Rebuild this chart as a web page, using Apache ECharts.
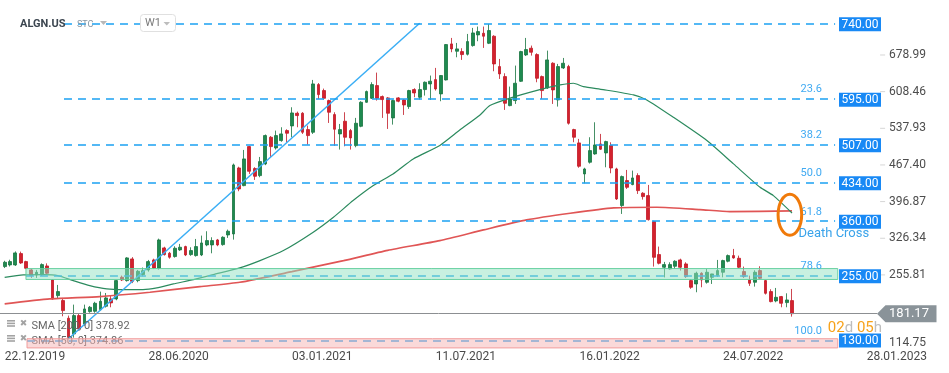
<!DOCTYPE html>
<html>
<head>
<meta charset="utf-8">
<script src="https://cdn.jsdelivr.net/npm/echarts@6/dist/echarts.min.js"></script>
<style>
  html, body { margin: 0; padding: 0; background: #fff; }
  #chart { width: 949px; height: 373px; }
</style>
</head>
<body>
<div id="chart"></div>
<script>
// weekly candles, one per week, [open, close, low, high]; index = week number
const ohlc = [
  [271.8,280.1,269,283],[275,281.4,272,285],[275,298.1,273,301],[296.8,278.8,277,300.6],
  [281.4,268.6,267,283],[265.4,254.5,250,267.3],[255.8,260.9,250,265.4],[255.8,275.6,254,278],
  [273,259,257,278],[246,209.6,208,247],[216,223.7,211,236.5],[206.4,187.1,176.2,211.5],
  [172.4,135.8,132.5,177.5],[142.2,177.5,135,198.6],[177.5,151.8,148,182],[161.4,190.3,158,198.6],
  [185.2,193.5,183,196],[185.8,201.2,183,204],[189,205,187,223.6],[195.5,211.5,193,221],
  [209.6,201.9,193.5,216],[209.6,244.8,207,246],[251.3,246.1,244,254.5],[244.8,288.5,243,290],
  [286.5,243.5,240,290],[244.8,262.8,241.6,265.4],[256.4,264,253,270],[265.4,281.4,262,284.6],
  [284.6,269.2,267,287],[268.6,323.1,266,325.6],[307.7,294.9,293,310],[297.5,289.8,287,300],
  [291.1,307.1,289,310.9],[303.9,309,302,315.4],[310.3,294.2,292,312],[294.9,302.6,292.5,309],
  [293,310.3,291,325],[294.2,317.3,292,331.4],[313.5,321.8,311,339.8],[313.5,321.8,297.4,328.2],
  [323.1,313.5,311,325],[314.1,328.2,312,330.1],[332.7,339.8,327,343],[334.6,467.4,323.7,470],
  [461.6,421.2,416.8,464],[427.6,479,426.4,496.3],[502.7,455.2,450.1,504],[460.4,445.6,438.6,463],
  [446.9,473.8,443.7,482.8],[469.4,523.9,467,526],[520.7,502.7,482.2,523],[500.1,523.9,497,533.5],
  [514.3,527.1,512,539.9],[533.5,528.4,511,536],[542.5,567.5,520.7,578.4],[566.9,562.4,539.9,570],
  [566.9,530.3,527,569],[535.4,523.9,506.5,543.1],[530.3,623.3,527,631],[622,602.8,594.4,625],
  [610.5,595.7,593,614.3],[591.2,568.8,548.2,593],[564.3,536.1,504,568.8],[527.1,535.4,497,546.3],
  [551.5,520.7,503.3,568.8],[533.5,519.4,497,536.7],[504.6,547.6,501.4,557.9],[541.8,588,540,590],
  [588,608.6,587,610.5],[595.7,622,594.4,626.5],[620.1,595.7,591.2,645.1],[598.9,593.2,557.9,601],
  [596.4,566.9,536.7,598],[557.9,591.2,545,593],[596.4,590,588,598],[592.5,582.9,563.6,594],
  [579.7,610.5,575.2,612],[612.4,606,597.6,615],[597.6,612.4,593.2,624.6],[612.4,626.5,600.9,628],
  [623.3,628.5,592.5,639.4],[631.6,613.7,610.5,654.1],[604.1,639.4,590,640],[631,699,630,700],
  [700.3,690.7,684.3,711.8],[686.2,690.7,674.6,702.2],[685.5,679.8,669.5,692],[680.4,704.8,678,719.5],
  [697.1,721.4,695,731.1],[717.6,724,705.5,733.7],[720.8,715.1,692.6,733.7],[701.6,726,700,738.8],
  [715.1,661.8,647.7,717],[656.7,642.6,632.9,671.4],[637.4,586.1,573.3,643.8],[581.6,594.4,580.3,618.2],
  [591.2,624.6,584.8,658.6],[628.4,685.5,627,687],[679.1,689.4,677,711.8],[692,684.3,677.8,697.1],
  [679.8,634.2,626.5,682.3],[637.4,610.5,594.4,639.4],[615.6,669.5,613.7,687.4],[663.1,611.8,584.8,665],
  [592.5,656.7,579.7,661.8],[654.1,663.1,652,673.3],[656.7,547.6,545,660],[535.4,520.7,511.1,537],
  [509.8,464.9,462,517.5],[450.1,459.7,432.1,462],[472.6,495,470,520.7],[488.6,505.9,487,549.5],
  [507.8,497.6,496.3,527.1],[490.5,512.3,462.9,514],[504.6,461.6,451.4,511],[459.7,402,400,462],
  [389.2,445,373.1,447],[437.3,424.4,421.2,457.8],[429.6,442.4,428.3,456.5],[446.9,418,411.6,451.4],
  [412.9,406.5,400.7,415],[408.4,362.2,360.3,428.9],[358.4,289.7,271.8,360],[294.9,278.2,276,310.3],
  [270.5,275.6,251,280.8],[267.3,275.6,266,280.1],[272.4,282.1,267.3,284],[284.6,270.5,264.1,287],
  [276.9,252.5,250,280.1],[244.8,232,229,247.4],[238.4,259,222.4,262],[259,246.1,232,260.9],
  [241.6,260.9,239,267.3],[251.2,257.7,238.4,258],[254.4,264.1,252,284.6],[260.9,283.3,251.2,285],
  [282.1,292.9,280,295],[292.9,288.5,287,305.8],[287.8,270.5,269,292.9],[262.2,252.5,250,271.8],
  [246.1,239.7,234.6,254.4],[241.6,260.9,233.3,264.7],[264.1,249.3,248,272.4],[244.8,220.4,218,246],
  [223.7,204.4,203,228.2],[205.7,212.7,203.1,230.7],[214,201.2,193.5,215.3],[202.5,207.6,193.5,220.4],
  [206.3,181.17,175.5,228.8]
];

// moving averages at these week numbers
const sma50Week = [0,3.5,7.3,10,12.9,16,19.2,22.3,26,28.6,31.7,35.5,39.2,44.2,48,52.4,58,61.8,65.5,69.3,73,76.8,81.8,85.6,89.3,91.2,95,100.6,104.4,106.9,108.8,112.5,118.2,120.7,125.7,132,137,142,144.5,148];
const sma50Val  = [251,255.7,256.4,254.4,244.8,235.2,228.8,227.5,227.5,230.7,238.4,246.8,256.4,269.2,283.3,302.6,337.9,366.7,398.8,427.7,450.1,479,505,535,563,581.6,596,612.4,621.4,624.6,618.2,612.4,602.1,592.5,559.1,514.3,469.4,424.4,408.4,374.86];
const sma200Week = [0,8.5,17.9,27.3,36.7,44.2,54,63.7,72,81.8,90,98.1,106.3,114.5,122.6,130.7,136.3,148];
const sma200Val  = [199.9,209.5,214,222.4,233.3,241.6,262,283.3,303,321.8,342.3,361.6,374.4,384.7,386,381.5,377.6,378.92];

// fibonacci retracement
const fibLevels = [740, 595, 507, 434, 360, 255, 130];
const fibNames = ['', '23.6', '38.2', '50.0', '61.8', '78.6', '100.0'];
const fibFrom = [11.15, 11.15, 11.15, 11.15, 11.15, 4.0, 4.2];
const fibTo = 156.1;
const zones = [[247, 268], [115.3, 133]];

const trendLine = [[12, 133], [78, 740]];
const lastPrice = 181.17;
const deathCross = [147.6, 371.6];

const yTicks = [114.75, 255.81, 326.34, 396.87, 467.40, 537.93, 608.46, 678.99];
const xTickPos = [5.7, 32.7, 59.7, 86.7, 113.7, 140.7, 167.7];
const xTickLabels = ['22.12.2019', '28.06.2020', '03.01.2021', '11.07.2021', '16.01.2022', '24.07.2022', '28.01.2023'];

const chart = echarts.init(document.getElementById('chart'));
const FONT = 'Roboto, "Noto Sans", sans-serif';
const FIB_BLUE = '#1ba1f2';

const fibLines = fibLevels.map((v, i) => [{ coord: [fibFrom[i], v] }, { coord: [fibTo, v] }]);

chart.setOption({
  animation: false,
  backgroundColor: '#fff',
  textStyle: { fontFamily: FONT },
  grid: { left: 0, right: 0, top: 0, bottom: 24.8 },
  xAxis: {
    type: 'value',
    min: -0.876,
    max: 177.51,
    axisLine: { show: false },
    axisTick: { show: false },
    splitLine: { show: false },
    axisLabel: {
      customValues: xTickPos,
      margin: 3,
      color: '#4a4a4a',
      fontSize: 12,
      formatter: function (v) {
        for (let i = 0; i < xTickPos.length; i++) {
          if (Math.abs(xTickPos[i] - v) < 0.01) return xTickLabels[i];
        }
        return '';
      }
    }
  },
  yAxis: {
    type: 'value',
    position: 'right',
    min: 114.75,
    max: 784.8,
    scale: true,
    axisLine: { show: false },
    axisTick: { show: false },
    splitLine: { show: false },
    axisLabel: {
      customValues: yTicks,
      inside: true,
      margin: 23,
      color: '#4d4d4d',
      fontSize: 12,
      formatter: function (v) {
        const s = v.toFixed(2);
        if (Math.abs(v - 114.75) < 0.01) return '{lo|' + s + '}';
        return '{tk|}{v|' + s + '}';
      },
      rich: {
        tk: { width: 5, height: 1, backgroundColor: '#d6d6d6' },
        v: { padding: [0, 0, 0, 4], color: '#4d4d4d', fontSize: 12 },
        lo: { padding: [0, 0, 10, 0], color: '#4d4d4d', fontSize: 12 }
      }
    }
  },
  series: [
    {
      type: 'candlestick',
      z: 2,
      barWidth: 3.3,
      data: ohlc.map((d, i) => [i, d[0], d[1], d[2], d[3]]),
      itemStyle: {
        color: '#1f8a50',
        color0: '#d3222e',
        borderColor: '#16733f',
        borderColor0: '#c01824',
        borderWidth: 0.8
      },
      markLine: {
        silent: true,
        symbol: ['none', 'none'],
        label: { show: false },
        lineStyle: { color: FIB_BLUE, width: 1.5, type: [8, 6] },
        data: fibLines
      }
    },
    {
      type: 'line',
      z: 3,
      name: 'SMA 200',
      data: sma200Week.map((w, i) => [w, sma200Val[i]]),
      smooth: 0.2,
      showSymbol: false,
      lineStyle: { color: '#e05555', width: 1.7 }
    },
    {
      type: 'line',
      z: 3,
      name: 'SMA 50',
      data: sma50Week.map((w, i) => [w, sma50Val[i]]),
      smooth: 0.2,
      showSymbol: false,
      lineStyle: { color: '#2b8a5e', width: 1.2 }
    },
    {
      type: 'line',
      z: 4,
      data: trendLine,
      showSymbol: false,
      lineStyle: { color: '#3aaef5', width: 1.5 },
      markLine: {
        silent: true,
        symbol: ['none', 'none'],
        label: { show: false },
        lineStyle: { color: '#8c8f92', width: 1, type: 'solid' },
        data: [[{ coord: [-0.876, lastPrice] }, { coord: [164, lastPrice] }]]
      }
    }
  ]
});

// overlays placed through the chart's own scales
const P = (x, y) => chart.convertToPixel({ seriesIndex: 0 }, [x, y]);
const g = [];
const txt = (x, y, text, font, fill, align, z) => g.push({
  type: 'text', x: x, y: y, z: z || 60, silent: true,
  style: { text: text, font: font, fill: fill, align: align || 'left', verticalAlign: 'middle' }
});

// header
txt(20, 24, 'ALGN.US', 'bold 11px ' + FONT, '#3c4650', 'left', 30);
txt(77, 24.5, 'STC', '9px ' + FONT, '#8795a1', 'left', 30);
g.push({ type: 'polygon', z: 30, silent: true, shape: { points: [[100, 21], [107, 21], [103.5, 25]] }, style: { fill: '#b8b8b8' } });
g.push({ type: 'rect', z: 30, silent: true, shape: { x: 140.5, y: 14.5, width: 35, height: 17, r: 3 }, style: { fill: '#fff', stroke: '#e0e0e0', lineWidth: 1 } });
txt(145, 23.5, 'W1', '11px ' + FONT, '#7a7a7a', 'left', 31);
g.push({ type: 'polygon', z: 31, silent: true, shape: { points: [[163.5, 22], [170, 22], [166.8, 25.5]] }, style: { fill: '#bdbdbd' } });

// indicator legend
[['SMA [200, 0] 378.92', 326.5], ['SMA [50, 0] 374.86', 341.5]].forEach(function (it) {
  const y = it[1];
  for (let j = 0; j < 3; j++) {
    g.push({ type: 'rect', z: 40, silent: true, shape: { x: 7, y: y - 6.5 + j * 2.6, width: 8, height: 1.6 }, style: { fill: '#a3a3a3' } });
  }
  txt(23.5, y - 3, '✖', '9px "DejaVu Sans"', '#a3a3a3', 'center', 40);
  txt(31.5, y, it[0], '11px ' + FONT, '#666', 'left', 40);
});

// zones
zones.forEach(function (z, i) {
  const a = P(i === 0 ? 4.0 : 4.2, z[1]);
  const b = P(156.6, z[0]);
  g.push({
    type: 'rect', z: 50, silent: true,
    shape: { x: a[0], y: a[1], width: b[0] - a[0], height: b[1] - a[1] },
    style: i === 0
      ? { fill: 'rgba(145,225,193,0.5)', stroke: 'rgba(95,205,155,0.9)', lineWidth: 1 }
      : { fill: 'rgba(245,180,180,0.5)', stroke: 'rgba(240,150,150,0.9)', lineWidth: 1 }
  });
});

// fibonacci boxes and level names
fibLevels.forEach(function (v, i) {
  const y = P(0, v)[1];
  const cy = Math.min(y + 1, 340.5);
  g.push({ type: 'rect', z: 60, silent: true, shape: { x: 839, y: cy - 7, width: 42, height: 14 }, style: { fill: '#1889f5' } });
  txt(860, cy + 0.5, v.toFixed(2), '12px ' + FONT, '#fff', 'center', 61);
  if (fibNames[i]) txt(822, y - 9, fibNames[i], '11px ' + FONT, '#41aaf2', 'right', 60);
});

// last price tag
const py = P(0, lastPrice)[1];
g.push({
  type: 'polygon', z: 60, silent: true,
  shape: { points: [[877, py], [885.5, py - 8.5], [936.5, py - 8.5], [936.5, py + 8.5], [885.5, py + 8.5]] },
  style: { fill: '#8a9399' }
});
txt(909, py + 0.5, lastPrice.toFixed(2), '13px ' + FONT, '#fff', 'center', 61);

// death cross marker
const dc = P(deathCross[0], deathCross[1]);
g.push({ type: 'ellipse', z: 70, silent: true, shape: { cx: dc[0], cy: dc[1], rx: 11.8, ry: 20.5 }, style: { fill: 'none', stroke: '#f07a0a', lineWidth: 3 } });
txt(798.5, 234, 'Death Cross', '13px ' + FONT, '#3aa3ea', 'left', 60);

// candle timer
g.push({
  type: 'text', x: 882, y: 328, z: 60, silent: true,
  style: {
    text: '{o|02}{g|d} {o|05}{g|h}',
    align: 'right', verticalAlign: 'middle',
    font: '15px ' + FONT,
    rich: {
      o: { fill: '#f7a21b', font: '15px ' + FONT },
      g: { fill: '#bdbdbd', font: '15px ' + FONT }
    }
  }
});

chart.setOption({ graphic: { elements: g } });
</script>
</body>
</html>
